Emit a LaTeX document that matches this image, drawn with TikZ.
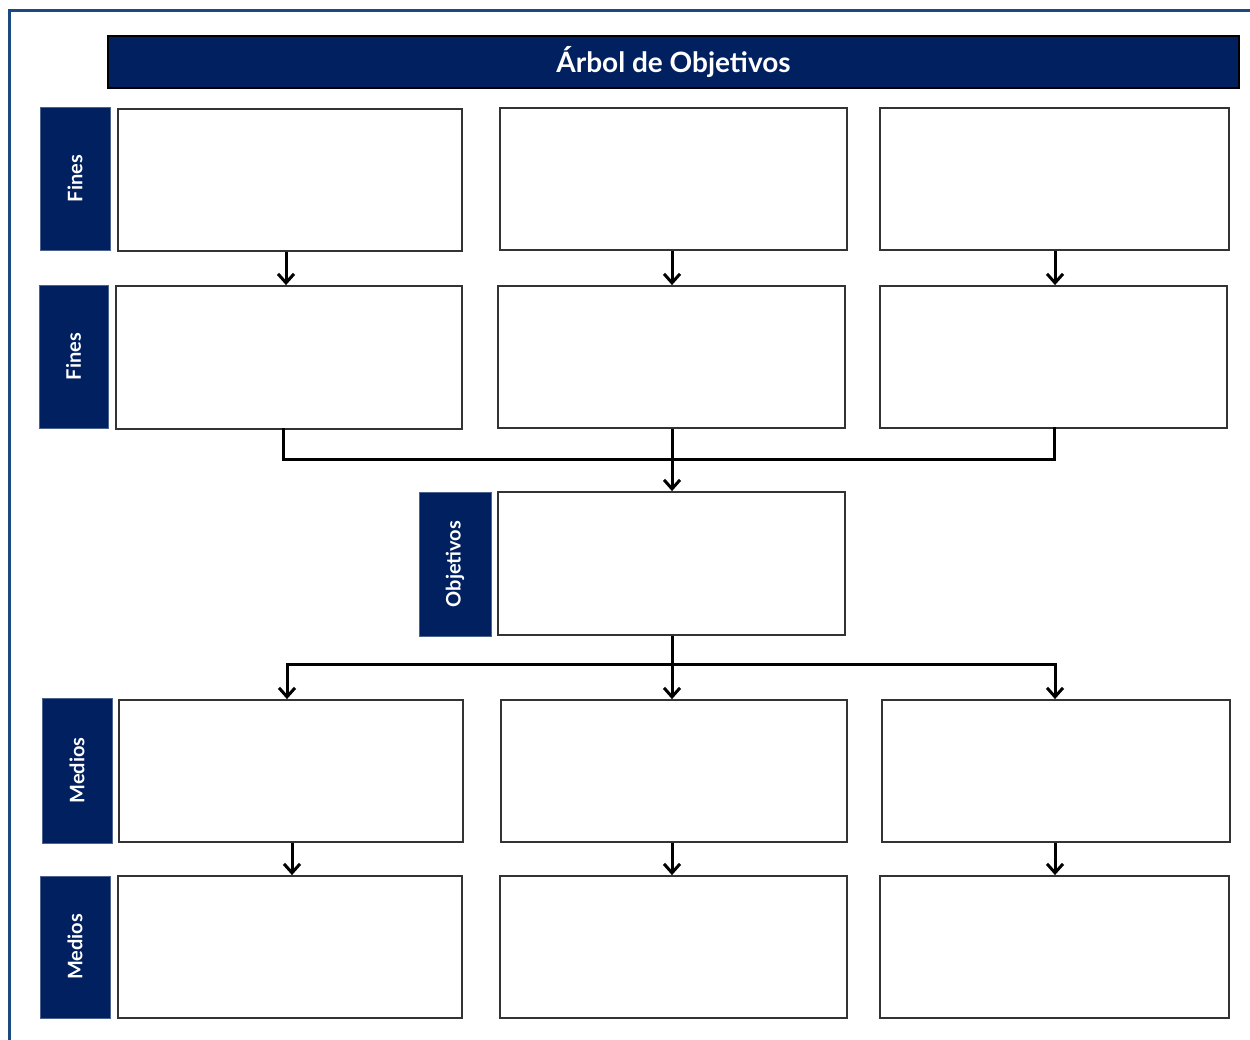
\documentclass[tikz,border=0pt]{standalone}
\usepackage{fontspec}
\setmainfont{Lato}
\usetikzlibrary{arrows.meta,calc}
\definecolor{navy}{HTML}{002060}
\definecolor{framec}{HTML}{1B4A7C}
\definecolor{boxline}{HTML}{333333}
\tikzset{
  box/.style={draw=boxline, line width=1.8pt, fill=white, inner sep=0pt},
  lbl/.style={fill=navy, draw=navy!70!white, line width=0.6pt, inner sep=0pt, text=white,
    font=\fontsize{20}{22}\selectfont\bfseries, rotate=90},
  conn/.style={line width=3pt, black, line cap=rect},
  arr/.style={line width=3pt, black, -{Straight Barb[length=9pt,width=16pt,line width=3pt]}},
}
\begin{document}
\begin{tikzpicture}[x=1pt,y=-1pt]
\useasboundingbox (0,0) rectangle (1250,1040);
% frame
\draw[framec, line width=3pt] (9.5,1042) -- (9.5,11) -- (1252,11);
% title
\node[fill=navy, draw=black, line width=1.8pt, minimum width=1131pt, minimum height=52pt, inner sep=0pt,
  text=white, font=\fontsize{28}{30}\selectfont\bfseries] (title) at (673.5,62) {Árbol de Objetivos};
% side labels (rotated: width <-> height)
\node[lbl, minimum width=143pt, minimum height=70pt] (l1) at (75,178.5) {Fines};
\node[lbl, minimum width=143pt, minimum height=69pt] (l2) at (73.5,356.5) {Fines};
\node[lbl, minimum width=144pt, minimum height=72pt] (l3) at (455,564) {Objetivos};
\node[lbl, minimum width=145pt, minimum height=70pt] (l4) at (77,770.5) {Medios};
\node[lbl, minimum width=142pt, minimum height=70pt] (l5) at (75,947) {Medios};
% boxes row 1
\node[box, minimum width=344pt, minimum height=142pt] (a1) at (290,180) {};
\node[box, minimum width=347pt, minimum height=142pt] (a2) at (673.5,179) {};
\node[box, minimum width=349pt, minimum height=142pt] (a3) at (1054.5,179) {};
% row 2
\node[box, minimum width=346pt, minimum height=143pt] (b1) at (289,357.5) {};
\node[box, minimum width=347pt, minimum height=142pt] (b2) at (671.5,357) {};
\node[box, minimum width=347pt, minimum height=142pt] (b3) at (1053.5,357) {};
% objective
\node[box, minimum width=347pt, minimum height=143pt] (o) at (671.5,563.5) {};
% row 4
\node[box, minimum width=344pt, minimum height=142pt] (c1) at (291,771) {};
\node[box, minimum width=346pt, minimum height=142pt] (c2) at (674,771) {};
\node[box, minimum width=348pt, minimum height=142pt] (c3) at (1056,771) {};
% row 5
\node[box, minimum width=344pt, minimum height=142pt] (d1) at (290,947) {};
\node[box, minimum width=347pt, minimum height=142pt] (d2) at (673.5,947) {};
\node[box, minimum width=349pt, minimum height=142pt] (d3) at (1054.5,947) {};
% guide coordinates
\coordinate (x1) at (286,0);
\coordinate (x2) at (672,0);
\coordinate (x3) at (1055,0);
\coordinate (xb1) at (283,0);
\coordinate (xb3) at (1054,0);
\coordinate (xc1) at (287,0);
\coordinate (xd1) at (292,0);
\coordinate (yb) at (0,459);
\coordinate (yc) at (0,664);
% row1 -> row2
\draw[arr] (a1.south -| x1) -- (b1.north -| x1);
\draw[arr] (a2.south -| x2) -- (b2.north -| x2);
\draw[arr] (a3.south -| x3) -- (b3.north -| x3);
% row2 -> objective
\draw[conn] (b1.south -| xb1) -- (yb -| xb1) -- (yb -| xb3) -- (b3.south -| xb3);
\draw[arr] (b2.south -| x2) -- (o.north -| x2);
% objective -> row4
\draw[conn] (yc -| xc1) -- (yc -| x3);
\draw[arr] (o.south -| x2) -- (c2.north -| x2);
\draw[arr] (yc -| xc1) -- (c1.north -| xc1);
\draw[arr] (yc -| x3) -- (c3.north -| x3);
% row4 -> row5
\draw[arr] (c1.south -| xd1) -- (d1.north -| xd1);
\draw[arr] (c2.south -| x2) -- (d2.north -| x2);
\draw[arr] (c3.south -| x3) -- (d3.north -| x3);
\end{tikzpicture}
\end{document}
